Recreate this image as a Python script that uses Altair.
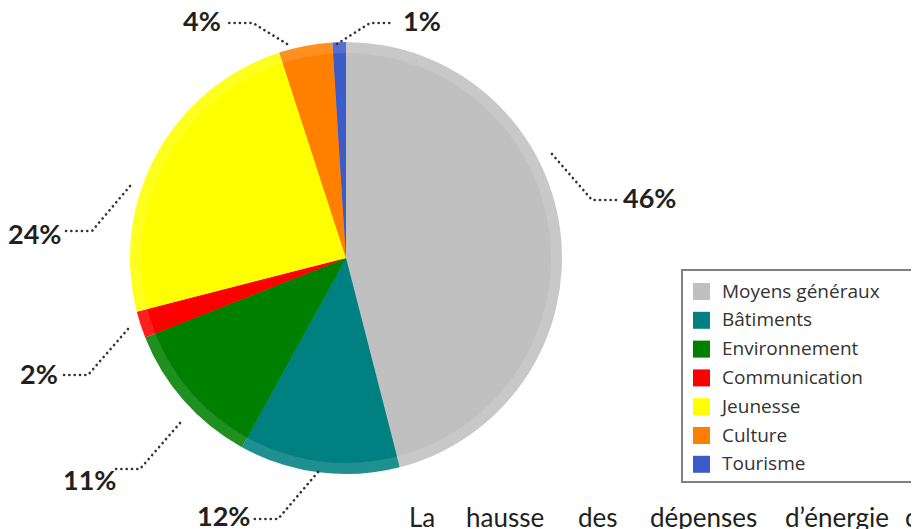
import altair as alt
import pandas as pd

# ---- data -------------------------------------------------------------
categories = ["Moyens généraux", "Bâtiments", "Environnement", "Communication",
              "Jeunesse", "Culture", "Tourisme"]
values = [46, 12, 11, 2, 24, 4, 1]
colors = ["#c0c0c0", "#008080", "#008000", "#ff0000", "#ffff00", "#ff8000", "#3a5bc8"]

body_words = ["La", "hausse", "des", "dépenses", "d’énergie", "c"]

# ---- callout layout (annotation placement, chart pixels) ---------------
label_xy = [(615, 192), (189, 510), (55, 474), (12, 368), (0, 228), (175, 15), (395, 15)]
leader_pts = [
    [(544, 146), (584, 192), (609, 192)],
    [(310, 464), (270, 511), (245, 511)],
    [(172, 415), (132, 461), (107, 461)],
    [(120, 321), (80, 367), (55, 367)],
    [(122, 178), (84, 223), (58, 223)],
    [(279, 36), (245, 15), (221, 15)],
    [(329, 36), (362, 15), (385, 15)],
]
body_x = [401, 458, 570, 642, 777, 897]

W, H = 903, 521
CX, CY, R, RING = 338, 250, 216, 11

pie = pd.DataFrame({"cat": categories, "val": values, "idx": range(len(values))})
labels = pd.DataFrame({
    "cat": categories,
    "txt": [f"{v}%" for v in values],
    "x": [p[0] for p in label_xy],
    "y": [p[1] for p in label_xy],
})
lines = pd.DataFrame([
    {"cat": c, "step": i, "x": p[0], "y": p[1]}
    for c, pts in zip(categories, leader_pts) for i, p in enumerate(pts)
])
body = pd.DataFrame({"w": body_words, "x": body_x, "y": [519] * len(body_words)})

xs = alt.Scale(domain=[0, W], range=[0, W], nice=False, zero=False)
ys = alt.Scale(domain=[0, H], range=[0, H], nice=False, zero=False)

color = alt.Color(
    "cat:N",
    scale=alt.Scale(domain=categories, range=colors),
    sort=categories,
    legend=alt.Legend(
        title=None, orient="none", legendX=684, legendY=274,
        symbolType="square", symbolSize=289, symbolStrokeWidth=0, symbolOpacity=1,
        labelFont="Open Sans", labelFontSize=19, labelColor="#333333",
        labelOffset=11, rowPadding=8.8, padding=0,
    ),
)

base_arc = alt.Chart(pie).encode(
    theta=alt.Theta("val:Q", stack=True),
    order=alt.Order("idx:Q"),
    color=color,
    x=alt.value(CX), y=alt.value(CY),
)
outer = base_arc.mark_arc(outerRadius=R, opacity=0.88, stroke=None)
inner = base_arc.mark_arc(outerRadius=R - RING, opacity=1, stroke=None)

leader = alt.Chart(lines).mark_line(
    color="#333333", strokeWidth=2.6, strokeCap="round", strokeDash=[0.1, 5.2]
).encode(
    x=alt.X("x:Q", scale=xs, axis=None),
    y=alt.Y("y:Q", scale=ys, axis=None),
    detail="cat:N",
    order="step:Q",
)

text = alt.Chart(labels).mark_text(
    font="Lato", fontWeight="bold", fontSize=27, color="#231f20",
    align="left", baseline="middle",
).encode(
    x=alt.X("x:Q", scale=xs, axis=None),
    y=alt.Y("y:Q", scale=ys, axis=None),
    text="txt:N",
)

para = alt.Chart(body).mark_text(
    font="Lato", fontSize=26, color="#231f20", align="left", baseline="alphabetic",
).encode(
    x=alt.X("x:Q", scale=xs, axis=None),
    y=alt.Y("y:Q", scale=ys, axis=None),
    text="w:N",
)

box = alt.Chart(pie).mark_rect(fill=None, stroke="#808080", strokeWidth=1.5).encode(
    x=alt.value(674), x2=alt.value(940), y=alt.value(262), y2=alt.value(474)
)

chart = alt.layer(outer, inner, leader, text, para, box).properties(
    width=W, height=H, padding=0, autosize=alt.AutoSizeParams(type="none")
).configure_view(stroke=None).resolve_scale(x="shared", y="shared")

chart.save("out.html", embed_options={"renderer": "svg", "actions": False})
